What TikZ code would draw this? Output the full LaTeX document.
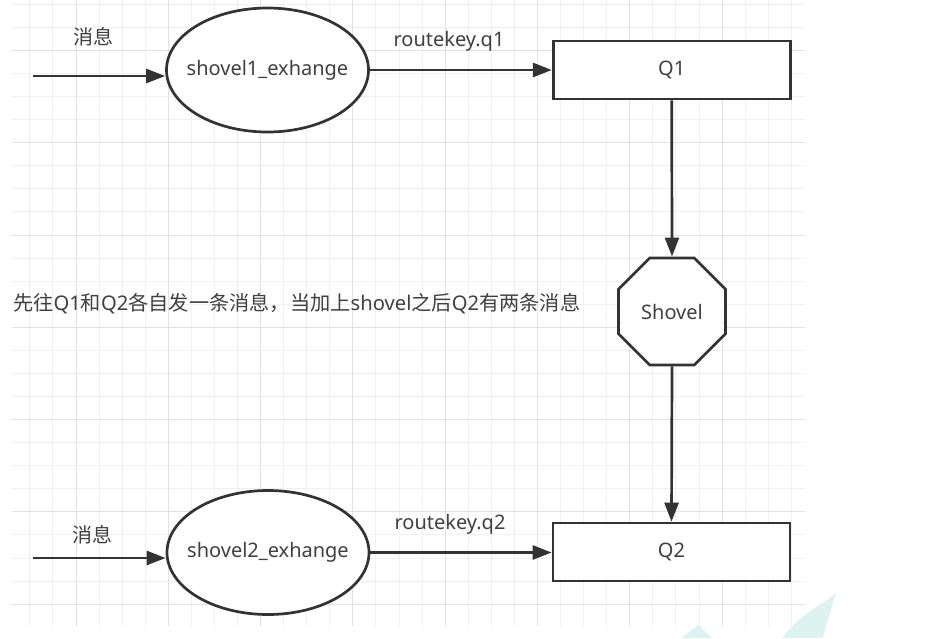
\documentclass[tikz,border=0pt]{standalone}
\usepackage{fontspec}
\setmainfont{Noto Sans}
\newfontfamily\cjk{Noto Sans CJK SC}
\usetikzlibrary{shapes.geometric,arrows.meta}
\definecolor{ink}{HTML}{333333}
\definecolor{txt}{HTML}{404040}
\definecolor{gmin}{HTML}{F0F0F0}
\definecolor{gmaj}{HTML}{E2E2E2}
\definecolor{wm}{HTML}{DDF3EF}
\begin{document}
\begin{tikzpicture}[x=1pt,y=-1pt,
  every node/.style={font=\fontsize{20pt}{24pt}\selectfont, text=txt},
  conn/.style={draw=ink, line width=2.7pt, -{Triangle[length=19pt,width=14pt]}},
  ex/.style={ellipse, draw=ink, line width=2.7pt, fill=white, minimum width=202pt, minimum height=124pt, inner sep=0pt},
  queue/.style={rectangle, draw=ink, line width=2.7pt, fill=white, minimum width=237pt, minimum height=58pt, inner sep=0pt},
  shov/.style={regular polygon, regular polygon sides=8, draw=ink, line width=2.7pt, fill=white, minimum size=116pt, inner sep=0pt},
  lbl/.style={anchor=base, inner sep=0pt},
  gminor/.style={draw=gmin, line width=1pt},
  gmajor/.style={draw=gmaj, line width=1pt}]
\useasboundingbox (0,0) rectangle (950,638);
\fill[white] (0,0) rectangle (950,638);
% grid
\begin{scope}
\clip (12,0) rectangle (805,626);
\foreach \k in {-3,...,31} \draw[gminor] ({76+23.075*\k},0) -- ({76+23.075*\k},626);
\foreach \k in {-6,...,20} \draw[gminor] (12,{142.7+23.075*\k}) -- (805,{142.7+23.075*\k});
\foreach \k in {-1,...,8} \draw[gmajor] ({76+92.3*\k},0) -- ({76+92.3*\k},626);
\foreach \k in {-1,...,5} \draw[gmajor] (12,{142.7+92.3*\k}) -- (805,{142.7+92.3*\k});
\end{scope}
% watermark
\fill[wm] (836,592) .. controls (828,602) and (812,608) .. (806,614) .. controls (796,622) and (788,630) .. (782,638) -- (823,638) .. controls (826,625) and (832,608) .. cycle;
\fill[wm] (682,638) -- (698,625) -- (712,638) -- cycle;
% nodes
\node[ex] (e1) at (267.5,70) {\makebox[0pt]{shovel1\_exhange}};
\node[queue] (q1) at (671.7,70) {Q1};
\node[shov] (sh) at (672,311.5) {Shovel};
\node[queue] (q2) at (671.5,552) {Q2};
\node[ex] (e2) at (268,552.5) {\makebox[0pt]{shovel2\_exhange}};
\coordinate (in1) at (33,76);
\coordinate (in2) at (33,558);
% connectors
\draw[conn] (in1) -- (in1 -| e1.west);
\draw[conn] (e1.east) -- (q1.west);
\draw[conn] (q1.south) -- (sh.north);
\draw[conn] (sh.south) -- (q2.north);
\draw[conn] (in2) -- (in2 -| e2.west);
\draw[conn] (e2.east) -- (e2.east -| q2.west);
% labels
\node[lbl] (m1) at (93.5,44) {\cjk 消息};
\node[lbl] (r1) at (449,46.7) {routekey.q1};
\node[lbl] (m2) at (92.5,542) {\cjk 消息};
\node[lbl] (r2) at (450,529.3) {routekey.q2};
\node[anchor=base west, inner sep=0pt, font=\fontsize{20.2pt}{24pt}\selectfont] (note) at (13,310) {{\cjk 先往}Q1{\cjk 和}Q2{\cjk 各自发一条消息，当加上}shovel{\cjk 之后}Q2{\cjk 有两条消息}};
\end{tikzpicture}
\end{document}
